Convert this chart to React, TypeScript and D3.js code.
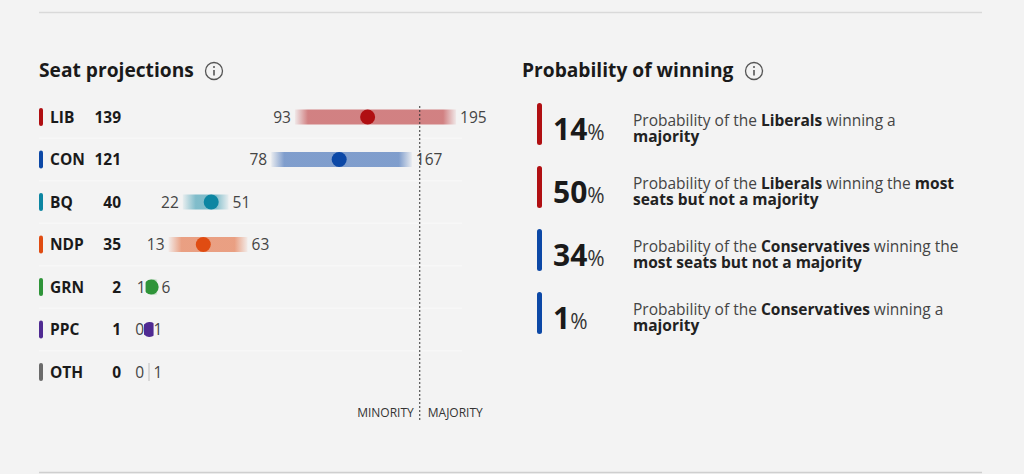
import * as d3 from "d3"

const parties = ["LIB", "CON", "BQ", "NDP", "GRN", "PPC", "OTH"]
const seats = [139, 121, 40, 35, 2, 1, 0]
const lows = [93, 78, 22, 13, 1, 0, 0]
const highs = [195, 167, 51, 63, 6, 1, 1]
const partyColors = ["#b00f12", "#0c48a6", "#0d86a2", "#e04c12", "#2f9439", "#4f2a92", "#6b6b6b"]
const totalSeats = 343
const majority = 172

const probValues = [14, 50, 34, 1]
const probColors = ["#b00f12", "#b00f12", "#0c48a6", "#0c48a6"]
// each line is a list of [text, bold]
const probLines: [string, boolean][][][] = [
  [
    [["Probability of the ", false], ["Liberals", true], [" winning a", false]],
    [["majority", true]],
  ],
  [
    [["Probability of the ", false], ["Liberals", true], [" winning the ", false], ["most", true]],
    [["seats but not a majority", true]],
  ],
  [
    [["Probability of the ", false], ["Conservatives", true], [" winning the", false]],
    [["most seats but not a majority", true]],
  ],
  [
    [["Probability of the ", false], ["Conservatives", true], [" winning a", false]],
    [["majority", true]],
  ],
]

const W = 1024
const H = 474
const font = "'Open Sans', sans-serif"

function InfoIcon({ x, y }: { x: number; y: number }) {
  return (
    <g transform={`translate(${x},${y})`} stroke="#555" fill="none">
      <circle r={8.5} strokeWidth={1.3} />
      <line x1={0} x2={0} y1={-1} y2={4.5} strokeWidth={1.6} />
      <circle cy={-4} r={1} fill="#555" stroke="none" />
    </g>
  )
}

export default function App() {
  const x = d3.scaleLinear().domain([0, totalSeats]).range([148, 148 + totalSeats * 1.58])
  const y = d3.scalePoint<string>().domain(parties).range([117, 372])
  const rowStep = y.step()
  const probY = d3
    .scalePoint<number>()
    .domain(d3.range(probValues.length))
    .range([124, 313])

  const barH = 15
  const fade = 13
  const fs = 15.5

  return (
    <>
      <style>{`body{margin:0;background:#f3f3f3}`}</style>
      <svg width={W} height={H} style={{ display: "block", background: "#f3f3f3", fontFamily: font }}>
        <defs>
          {parties.map((p, i) => {
            const x0 = x(lows[i])
            const x1 = x(highs[i])
            const w = Math.max(x1 - x0, 1)
            const f = Math.min(fade / w, 0.45)
            return (
              <linearGradient
                key={p}
                id={`g-${p}`}
                gradientUnits="userSpaceOnUse"
                x1={x0}
                x2={x1}
                y1={0}
                y2={0}
              >
                <stop offset={0} stopColor={partyColors[i]} stopOpacity={0.05} />
                <stop offset={f} stopColor={partyColors[i]} stopOpacity={0.5} />
                <stop offset={1 - f} stopColor={partyColors[i]} stopOpacity={0.5} />
                <stop offset={1} stopColor={partyColors[i]} stopOpacity={0.05} />
              </linearGradient>
            )
          })}
          {parties.map((p, i) => (
            <clipPath key={p} id={`c-${p}`}>
              <rect
                x={x(lows[i]) - 4}
                width={x(highs[i]) - x(lows[i]) + 8}
                y={(y(p) ?? 0) - 10}
                height={20}
                rx={3}
              />
            </clipPath>
          ))}
        </defs>

        <line x1={39} x2={982} y1={12.5} y2={12.5} stroke="#d9d9d9" strokeWidth={1.5} />
        <line x1={39} x2={982} y1={472.5} y2={472.5} stroke="#cfcfcf" strokeWidth={1.5} />

        {/* Seat projections */}
        <text x={39} y={77} fontSize={19.2} fontWeight={700} fill="#1a1a1a">
          Seat projections
        </text>
        <InfoIcon x={214} y={71} />

        {parties.slice(0, -1).map((p) => (
          <line
            key={p}
            x1={39}
            x2={462}
            y1={(y(p) ?? 0) + rowStep / 2}
            y2={(y(p) ?? 0) + rowStep / 2}
            stroke="#f9f9f9"
            strokeWidth={1}
          />
        ))}

        {parties.map((p, i) => {
          const cy = y(p) ?? 0
          const c = partyColors[i]
          const x0 = x(lows[i])
          const x1 = x(highs[i])
          return (
            <g key={p}>
              <rect x={39} y={cy - 9} width={4} height={18} rx={2} fill={c} />
              <text x={50} y={cy + 5.5} fontSize={fs} fontWeight={700} fill="#1a1a1a">
                {p}
              </text>
              <text x={121} y={cy + 5.5} fontSize={fs} fontWeight={700} fill="#1a1a1a" textAnchor="end">
                {seats[i]}
              </text>
              {p === "OTH" ? (
                <rect x={x(0) + 0.5} y={cy - 9} width={1} height={18} fill="#bdbdbd" />
              ) : (
                <>
                  <rect x={x0} y={cy - barH / 2} width={Math.max(x1 - x0, 1)} height={barH} fill={`url(#g-${p})`} />
                  <circle cx={x(seats[i])} cy={cy} r={7.5} fill={c} clipPath={`url(#c-${p})`} />
                </>
              )}
              <text x={x(lows[i]) - 4} y={cy + 5.5} fontSize={fs} fill="#444" textAnchor="end">
                {lows[i]}
              </text>
              <text x={x(highs[i]) + 4} y={cy + 5.5} fontSize={fs} fill="#444">
                {highs[i]}
              </text>
            </g>
          )
        })}

        <line
          x1={x(majority)}
          x2={x(majority)}
          y1={106}
          y2={422}
          stroke="#333"
          strokeWidth={1}
          strokeDasharray="2,2"
        />
        <text x={x(majority) - 6} y={417} fontSize={12} fill="#333" textAnchor="end">
          MINORITY
        </text>
        <text x={x(majority) + 8} y={417} fontSize={12} fill="#333">
          MAJORITY
        </text>

        {/* Probability of winning */}
        <text x={522} y={77} fontSize={19.2} fontWeight={700} fill="#1a1a1a">
          Probability of winning
        </text>
        <InfoIcon x={754} y={71} />

        {probValues.map((v, i) => {
          const cy = probY(i) ?? 0
          return (
            <g key={i}>
              <rect x={537} y={cy - 21} width={5} height={42} rx={2.5} fill={probColors[i]} />
              <text x={553} y={cy + 16} fill="#1a1a1a">
                <tspan fontSize={30} fontWeight={700}>
                  {v}
                </tspan>
                <tspan fontSize={21} fill="#333">
                  %
                </tspan>
              </text>
              {probLines[i].map((line, j) => (
                <text key={j} x={633} y={cy + 2 + j * 16} fontSize={15.5} fill="#444">
                  {line.map(([t, b], k) => (
                    <tspan key={k} fontWeight={b ? 700 : 400} fill={b ? "#222" : "#444"}>
                      {t}
                    </tspan>
                  ))}
                </text>
              ))}
            </g>
          )
        })}
      </svg>
    </>
  )
}
